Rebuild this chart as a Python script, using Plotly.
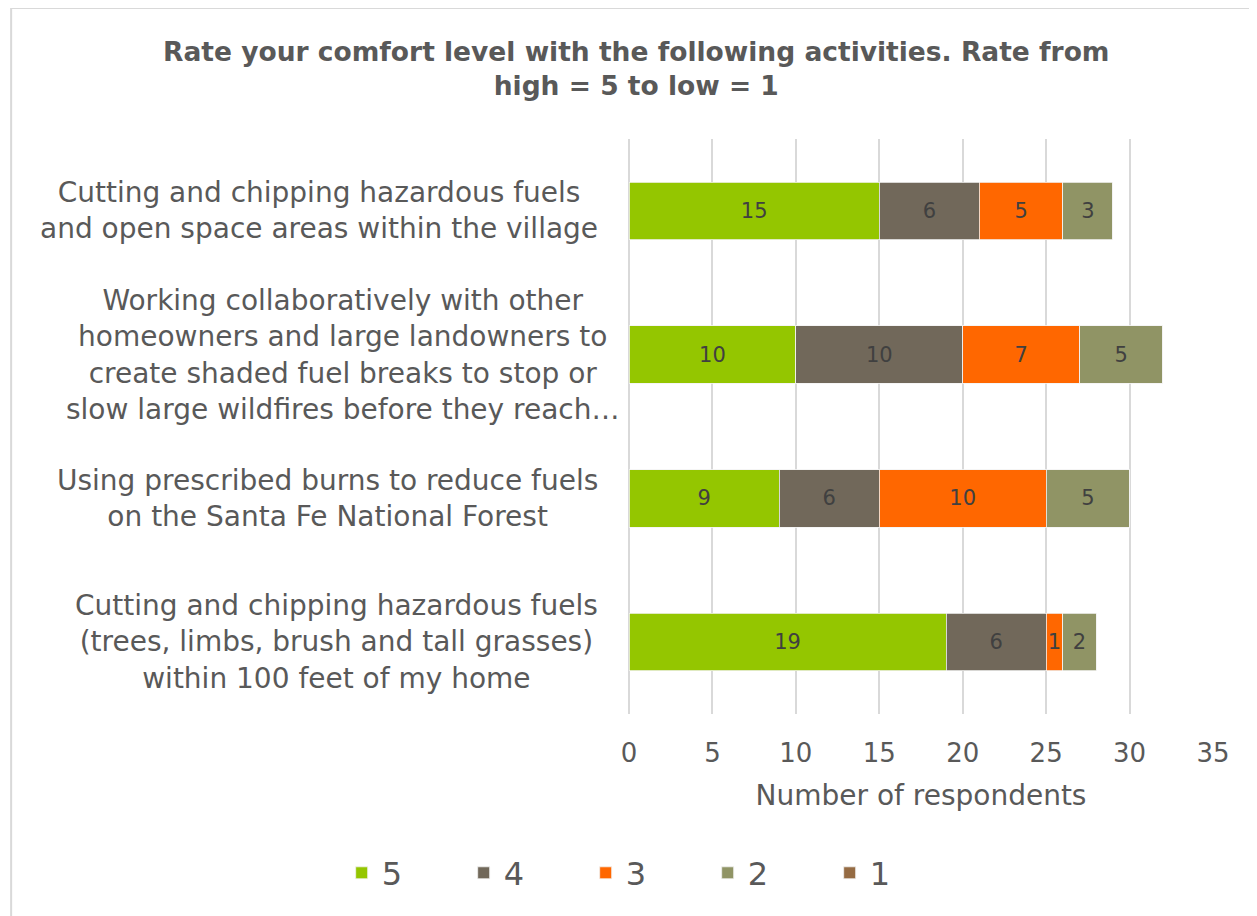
import plotly.graph_objects as go

# ---- data ----
categories = [
    "Cutting and chipping hazardous fuels<br>and open space areas within the village",
    "Working collaboratively with other<br>homeowners and large landowners to<br>create shaded fuel breaks to stop or<br>slow large wildfires before they reach…",
    "Using prescribed burns to reduce fuels<br>on the Santa Fe National Forest",
    "Cutting and chipping hazardous fuels<br>(trees, limbs, brush and tall grasses)<br>within 100 feet of my home",
]
series_names = ["5", "4", "3", "2", "1"]
rating_5 = [15, 10, 9, 19]
rating_4 = [6, 10, 6, 6]
rating_3 = [5, 7, 10, 1]
rating_2 = [3, 5, 5, 2]
rating_1 = [0, 0, 0, 0]
x_ticks = [0, 5, 10, 15, 20, 25, 30, 35]

colors = ["#94C600", "#71685A", "#FF6700", "#909465", "#956B43"]
FONT = "DejaVu Sans"
TXT = "#595959"

fig = go.Figure()
for name, vals, col in zip(series_names, [rating_5, rating_4, rating_3, rating_2, rating_1], colors):
    fig.add_trace(go.Bar(
        y=categories, x=vals, name=name, orientation="h",
        marker=dict(color=col, line=dict(color="#f2f2f2", width=0.8)),
        text=[str(v) if v else "" for v in vals],
        textposition="inside", insidetextanchor="middle",
        textfont=dict(family=FONT, size=21, color="#404040"),
        textangle=0, constraintext="none",
        hoverinfo="x+name",
    ))

# category labels as centered multi-line annotations
shifts = [-29, -7, -29, -29]
for cat, sh in zip(categories, shifts):
    fig.add_annotation(
        x=0, xref="paper", y=cat, yref="y", xanchor="right", yanchor="middle",
        xshift=sh, text=cat, showarrow=False, align="center",
        font=dict(family=FONT, size=28, color=TXT),
    )

# outer chart border (left/top visible in reference)
fig.add_shape(type="rect", xref="paper", yref="paper",
              x0=-1.058, x1=1.2, y0=-0.5, y1=1.2278,
              line=dict(color="#d9d9d9", width=2), fillcolor="rgba(0,0,0,0)", layer="below")

fig.update_layout(
    width=1249, height=908,
    barmode="stack", bargap=0.6,
    paper_bgcolor="white", plot_bgcolor="white",
    margin=dict(l=621, r=44, t=131, b=202),
    title=dict(
        text="<b>Rate your comfort level with the following activities. Rate from<br>high = 5 to low = 1</b>",
        x=0.503, xref="container", xanchor="center",
        y=0.942, yref="container", yanchor="middle",
        font=dict(family=FONT, size=26.5, color=TXT),
    ),
    xaxis=dict(
        range=[0, 35], tickvals=x_ticks, ticktext=[str(t) for t in x_ticks],
        showgrid=True, gridcolor="#d9d9d9", gridwidth=1.5,
        zeroline=True, zerolinecolor="#d9d9d9", zerolinewidth=1.5,
        showline=False, ticks="", ticklabelstandoff=21,
        tickfont=dict(family=FONT, size=26, color=TXT),
        title=dict(text="Number of respondents", font=dict(family=FONT, size=28, color=TXT), standoff=18),
    ),
    yaxis=dict(
        autorange="reversed", showticklabels=False, showgrid=False,
        zeroline=False, showline=False,
    ),
    legend=dict(
        orientation="h", xref="paper", x=-0.492, xanchor="left",
        yref="paper", y=-0.2765, yanchor="middle",
        font=dict(family=FONT, size=32, color=TXT),
        entrywidth=77, entrywidthmode="pixels", traceorder="normal",
    ),
    showlegend=True,
)

fig.write_html("out.html")
